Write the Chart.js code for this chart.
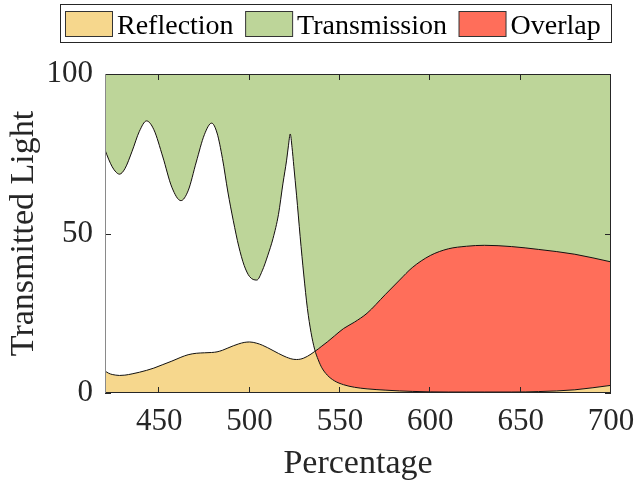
<!DOCTYPE html>
<html><head><meta charset="utf-8">
<script src="https://cdn.jsdelivr.net/npm/chart.js@4.4.0/dist/chart.umd.min.js"></script>
<style>html,body{margin:0;padding:0;background:#fff;}#wrap{width:636px;height:481px;}</style>
</head><body><div id="wrap"><canvas id="c" width="636" height="481"></canvas></div>
<script>
// ---- data ----
const wavelength   = [420,422,424,426,428,431,435,439,443,447,452,457,462,466,470.5,475,479,482,485,488,491,494,497,500,504,507,510,513,516,518.5,520.5,521.5,522.5,523.5,524.5,526,528,530,532,534,536,538,540,543,547,552,558,565,575,583,590,600,610,620,630,645,660,680,700];
const transmission = [76.2,73.3,70.9,69.3,68.6,70.3,75.8,82.0,85.3,82.6,74.0,64.5,60.3,63.4,72.4,81.0,84.6,81.5,73.5,63.0,54.0,46.0,40.0,36.5,35.4,38.3,43.0,48.5,56.0,65.8,73.0,77.5,81.2,77.0,71.0,62.0,49.0,37.0,26.5,19.0,13.7,10.4,7.9,5.6,3.8,2.6,1.8,1.3,0.9,0.65,0.5,0.35,0.3,0.3,0.3,0.3,0.45,1.0,2.4];
const reflection   = [6.9,6.2,5.8,5.6,5.5,5.6,6.0,6.5,7.1,7.8,8.9,10.0,11.2,12.0,12.45,12.6,12.7,12.9,13.4,14.1,14.8,15.4,15.85,16.0,15.6,15.0,14.2,13.3,12.4,11.7,11.2,11.0,10.8,10.65,10.55,10.5,10.6,10.95,11.5,12.2,13.0,13.8,14.7,16.0,17.9,20.2,22.2,25.0,30.8,35.4,39.3,43.1,45.2,46.0,46.3,45.9,45.0,43.5,41.1];
const xTickValues  = [450,500,550,600,650,700];
const yTickValues  = [0,50,100];
const seriesLabels = ['Reflection','Transmission','Overlap'];
const xTitle = 'Percentage';
const yTitle = 'Transmitted Light';

// ---- style ----
const COLORS = {Reflection:'#F6D78D', Transmission:'#BDD599', Overlap:'#FF6E5A'};
const FONT = "'Liberation Serif','Times New Roman',serif";
const INK = '#262626';

const pts = arr => wavelength.map((x,i)=>({x:x, y:arr[i]}));

const framePlugin = {
  id:'frame',
  afterDatasetsDraw(chart){
    const {ctx, chartArea:a, scales:{x,y}} = chart;
    ctx.save();
    ctx.lineWidth = 1;
    ctx.strokeStyle = INK;
    ctx.beginPath();
    xTickValues.forEach(v=>{
      const px = Math.round(x.getPixelForValue(v)) - 0.5;
      ctx.moveTo(px, a.bottom); ctx.lineTo(px, a.bottom-6);
      ctx.moveTo(px, a.top); ctx.lineTo(px, a.top+6);
    });
    yTickValues.forEach(v=>{
      const py = Math.round(y.getPixelForValue(v)) + 0.5;
      ctx.moveTo(a.left, py); ctx.lineTo(a.left+6, py);
      ctx.moveTo(a.right, py); ctx.lineTo(a.right-6, py);
    });
    ctx.stroke();
    ctx.beginPath();
    ctx.moveTo(a.left, a.top+0.5); ctx.lineTo(a.right, a.top+0.5);
    ctx.moveTo(a.right-0.5, a.top); ctx.lineTo(a.right-0.5, a.bottom);
    ctx.moveTo(a.left, a.bottom-0.5); ctx.lineTo(a.right, a.bottom-0.5);
    ctx.stroke();
    ctx.strokeStyle = '#8a8a8a';
    ctx.beginPath();
    ctx.moveTo(a.left+0.5, a.top); ctx.lineTo(a.left+0.5, a.bottom);
    ctx.stroke();
    ctx.restore();
  },
  afterDraw(chart){
    const ctx = chart.ctx;
    ctx.save();
    ctx.fillStyle = '#fff';
    ctx.fillRect(60.5, 4.5, 551, 38);
    ctx.strokeStyle = INK; ctx.lineWidth = 1;
    ctx.strokeRect(60.5, 4.5, 551, 38);
    ctx.font = '28px ' + FONT;
    ctx.textBaseline = 'alphabetic';
    let x = 65;
    seriesLabels.forEach(lbl=>{
      ctx.fillStyle = COLORS[lbl];
      ctx.fillRect(x+0.5, 11.5, 47, 25);
      ctx.strokeStyle = '#333';
      ctx.strokeRect(x+0.5, 11.5, 47, 25);
      ctx.fillStyle = '#000';
      ctx.fillText(lbl, x+52, 34);
      x = x + 52 + ctx.measureText(lbl).width + 11.5;
    });
    ctx.restore();
  }
};

new Chart(document.getElementById('c'), {
  type:'line',
  data:{
    datasets:[
      {label:'Overlap', data:pts(reflection), borderWidth:0, borderColor:'rgba(0,0,0,0)',
       fill:{target:2, above:COLORS.Overlap, below:'rgba(0,0,0,0)'}, pointRadius:0, cubicInterpolationMode:'monotone'},
      {label:'Reflection', data:pts(reflection), borderWidth:1, borderColor:'#111',
       backgroundColor:COLORS.Reflection, fill:'origin', pointRadius:0, cubicInterpolationMode:'monotone'},
      {label:'Transmission', data:pts(transmission), borderWidth:1, borderColor:'#111',
       backgroundColor:COLORS.Transmission, fill:'end', pointRadius:0, cubicInterpolationMode:'monotone'}
    ]
  },
  options:{
    responsive:false, animation:false, devicePixelRatio:1,
    layout:{padding:{top:74, right:25, left:0, bottom:0}},
    plugins:{legend:{display:false}, tooltip:{enabled:false}, filler:{drawTime:'beforeDatasetsDraw'}},
    scales:{
      x:{type:'linear', min:420, max:700,
         afterBuildTicks:s=>{s.ticks = xTickValues.map(v=>({value:v}));},
         afterFit:s=>{s.height = 88; s.paddingLeft = 0; s.paddingRight = 0;},
         grid:{display:false, drawTicks:false}, border:{display:false},
         ticks:{padding:10, color:INK, font:{family:FONT, size:31}, maxRotation:0, autoSkip:false},
         title:{display:true, text:xTitle, color:INK, font:{family:FONT, size:34, lineHeight:1}, padding:{top:0,bottom:0}}
      },
      y:{type:'linear', min:0, max:100,
         afterBuildTicks:s=>{s.ticks = yTickValues.map(v=>({value:v}));},
         afterFit:s=>{s.width = 105; s.paddingTop = 0; s.paddingBottom = 0;},
         grid:{display:false, drawTicks:false}, border:{display:false},
         ticks:{padding:12, color:INK, font:{family:FONT, size:31}},
         title:{display:true, text:yTitle, color:INK, font:{family:FONT, size:34, lineHeight:1}, padding:{top:7.5,bottom:0}}
      }
    }
  },
  plugins:[framePlugin]
});
</script>
</body></html>
